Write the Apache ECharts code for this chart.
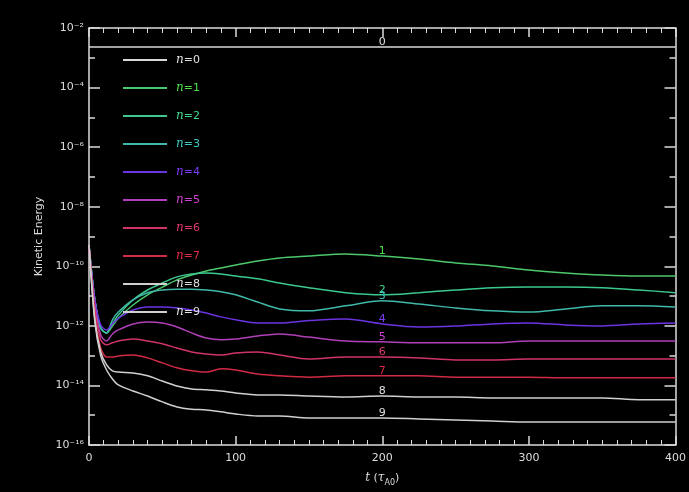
<!DOCTYPE html>
<html><head><meta charset="utf-8">
<script src="https://cdn.jsdelivr.net/npm/echarts@6/dist/echarts.min.js"></script>
<style>html,body{margin:0;padding:0;background:#000;} #c{width:689px;height:492px;}</style>
</head><body><div id="c"></div>
<script>
// ---- data ----
const times = [0,4,8,12,16,20,30,40,50,60,70,80,90,100,115,130,150,175,200,225,250,275,300,325,350,375,400];
const n0Times = [0, 200, 400];
const n0 = [2.3e-3, 2.3e-3, 2.3e-3];
const n1 = [5.2e-10,7.4e-12,8.5e-13,5.8e-13,9.9e-13,1.8e-12,5.0e-12,1.1e-11,2.0e-11,3.5e-11,5.1e-11,7.0e-11,8.8e-11,1.1e-10,1.5e-10,1.9e-10,2.2e-10,2.6e-10,2.2e-10,1.76e-10,1.3e-10,1.03e-10,7.5e-11,6.0e-11,5.1e-11,4.7e-11,4.7e-11];
const n2 = [5.2e-10,7.4e-12,8.5e-13,5.8e-13,1.16e-12,2.3e-12,7.4e-12,1.6e-11,2.75e-11,4.4e-11,5.5e-11,6.0e-11,5.5e-11,4.7e-11,3.8e-11,2.75e-11,1.9e-11,1.3e-11,1.1e-11,1.3e-11,1.6e-11,1.9e-11,2.0e-11,2.0e-11,1.9e-11,1.6e-11,1.3e-11];
const n3 = [5.2e-10,7.4e-12,8.5e-13,5.8e-13,1.6e-12,2.9e-12,7.4e-12,1.3e-11,1.6e-11,1.7e-11,1.7e-11,1.6e-11,1.4e-11,1.1e-11,6.3e-12,3.7e-12,3.2e-12,4.7e-12,6.9e-12,5.4e-12,4.0e-12,3.2e-12,2.9e-12,3.7e-12,4.7e-12,4.7e-12,4.3e-12];
const n4 = [5.2e-10,7.4e-12,1.07e-12,7.3e-13,1.16e-12,1.8e-12,3.4e-12,4.3e-12,4.3e-12,4.0e-12,3.4e-12,2.7e-12,2.0e-12,1.6e-12,1.25e-12,1.25e-12,1.5e-12,1.7e-12,1.16e-12,9.2e-13,9.9e-13,1.16e-12,1.25e-12,1.07e-12,9.9e-13,1.16e-12,1.25e-12];
const n5 = [5.2e-10,5.0e-12,4.9e-13,3.1e-13,5.35e-13,7.3e-13,1.16e-12,1.35e-12,1.25e-12,9.2e-13,5.8e-13,3.9e-13,3.4e-13,3.6e-13,4.6e-13,5.35e-13,4.2e-13,3.1e-13,2.9e-13,2.7e-13,2.7e-13,2.7e-13,3.1e-13,3.1e-13,3.1e-13,3.1e-13,3.1e-13];
const n6 = [5.2e-10,3.4e-12,3.4e-13,2.3e-13,2.7e-13,3.1e-13,3.6e-13,3.1e-13,2.5e-13,1.8e-13,1.33e-13,1.14e-13,1.05e-13,1.23e-13,1.33e-13,1.05e-13,7.7e-14,9.0e-14,9.0e-14,8.4e-14,7.2e-14,7.2e-14,7.7e-14,7.7e-14,7.7e-14,7.7e-14,7.7e-14];
const n7 = [5.2e-10,2.3e-12,1.8e-13,9.0e-14,9.0e-14,9.8e-14,1.05e-13,8.4e-14,5.7e-14,3.9e-14,3.1e-14,2.8e-14,3.6e-14,3.3e-14,2.4e-14,2.1e-14,1.9e-14,2.1e-14,2.1e-14,2.1e-14,1.9e-14,1.9e-14,1.9e-14,1.8e-14,1.8e-14,1.8e-14,1.8e-14];
const n8 = [5.2e-10,1.6e-12,1.33e-13,4.9e-14,3.1e-14,2.8e-14,2.6e-14,2.1e-14,1.4e-14,9.6e-15,7.6e-15,7.1e-15,6.5e-15,5.6e-15,4.8e-15,4.8e-15,4.4e-15,4.1e-15,4.4e-15,4.1e-15,4.1e-15,3.8e-15,3.8e-15,3.8e-15,3.8e-15,3.3e-15,3.3e-15];
const n9 = [5.2e-10,1.35e-12,9.8e-14,3.3e-14,1.65e-14,1.04e-14,6.5e-15,4.4e-15,2.8e-15,1.9e-15,1.6e-15,1.5e-15,1.3e-15,1.1e-15,9.5e-16,9.5e-16,8.1e-16,8.1e-16,8.1e-16,7.5e-16,6.9e-16,6.4e-16,5.9e-16,5.9e-16,5.9e-16,5.9e-16,5.9e-16];
const seriesNames = ['n=0','n=1','n=2','n=3','n=4','n=5','n=6','n=7','n=8','n=9'];
const curveLabels = ['0','1','2','3','4','5','6','7','8','9'];
const labelTime = 200;
const xTicks = [0,100,200,300,400];
const yMajorTicks = [1e-2,1e-4,1e-6,1e-8,1e-10,1e-12,1e-14,1e-16];
const yMinorTicks = [1e-3,1e-5,1e-7,1e-9,1e-11,1e-13,1e-15];

// ---- styles ----
const lineColors = ['#d8d8d8','#4cc86c','#3cc88e','#40b8aa','#6a34e0','#b040b8','#d03466','#d02a44','#d0d0d0','#d0d0d0'];
const textColors = ['#e0e0e0','#4ce04c','#40d890','#40c8c0','#7a3cf0','#d040d0','#e03870','#e02a44','#e0e0e0','#e0e0e0'];
const fg = '#dcdcdc';

const sup = {'-':'\u207b','0':'\u2070','1':'\u00b9','2':'\u00b2','3':'\u00b3','4':'\u2074','5':'\u2075','6':'\u2076','7':'\u2077','8':'\u2078','9':'\u2079'};
function powLabel(v){
  const e = Math.round(Math.log10(v));
  return '10' + String(e).split('').map(c=>sup[c]).join('');
}

const allData = [n0,n1,n2,n3,n4,n5,n6,n7,n8,n9];
const series = allData.map((vals,i)=>{
  const xs = i===0 ? n0Times : times;
  const k = xs.indexOf(labelTime);
  return {
    name: seriesNames[i],
    type: 'line',
    xAxisIndex: 0, yAxisIndex: 0,
    data: xs.map((t,j)=>[t, vals[j]]),
    showSymbol: false,
    smooth: 0.3,
    lineStyle: {color: lineColors[i], width: 1.5},
    itemStyle: {color: lineColors[i]},
    markPoint: {
      symbol: 'circle', symbolSize: 1, silent: true,
      itemStyle: {color: 'rgba(0,0,0,0)'},
      label: {show: true, position: 'top', distance: -1, formatter: curveLabels[i], color: textColors[i], fontSize: 11, fontFamily: 'DejaVu Sans'},
      data: [{coord: [labelTime, vals[k]]}]
    }
  };
});

const axisLineStyle = {color: fg, width: 1.5};
const yBase = {type: 'log', logBase: 10, min: 1e-16, max: 1e-2, splitLine: {show: false}};
const option = {
  backgroundColor: '#000',
  animation: false,
  grid: {left: 89, right: 13, top: 28, bottom: 47, containLabel: false},
  legend: {
    orient: 'vertical', left: 118, top: 48,
    itemWidth: 44, itemHeight: 2, itemGap: 14, icon: 'rect',
    data: seriesNames.map((n,i)=>({name: n, textStyle: {color: textColors[i]}})),
    formatter: n => '{i|n}' + n.slice(1),
    textStyle: {fontSize: 11, lineHeight: 14, fontFamily: 'DejaVu Sans', padding: [0,0,0,4],
      rich: {i: {fontStyle: 'italic', fontFamily: 'DejaVu Serif', fontSize: 12}}},
    selectedMode: false
  },
  xAxis: [
    {type: 'value', position: 'bottom', min: 0, max: 400, interval: 100,
     axisLine: {show: true, lineStyle: axisLineStyle},
     axisTick: {show: true, inside: true, length: 9, lineStyle: axisLineStyle, customValues: xTicks},
     minorTick: {show: true, splitNumber: 10, length: 5, lineStyle: {color: fg, width: 1}},
     axisLabel: {color: fg, fontSize: 11, fontFamily: 'DejaVu Sans', margin: 8, customValues: xTicks},
     splitLine: {show: false},
     name: '{it|t} ({it|\u03c4}{sub|A0})', nameLocation: 'middle', nameGap: 24,
     nameTextStyle: {color: fg, fontSize: 11, fontFamily: 'DejaVu Sans',
       rich: {it: {fontStyle: 'italic', fontFamily: 'DejaVu Serif', fontSize: 12, lineHeight: 18},
              sub: {fontSize: 8, lineHeight: 12, verticalAlign: 'bottom'}}}},
    {type: 'value', position: 'top', min: 0, max: 400, interval: 100,
     axisLine: {show: true, lineStyle: axisLineStyle},
     axisTick: {show: true, inside: true, length: 9, lineStyle: axisLineStyle},
     minorTick: {show: true, splitNumber: 10, length: 5, lineStyle: {color: fg, width: 1}},
     axisLabel: {show: false}, splitLine: {show: false}}
  ],
  yAxis: [
    Object.assign({}, yBase, {position: 'left',
      axisLine: {show: true, lineStyle: axisLineStyle},
      axisTick: {show: true, inside: true, length: 11, lineStyle: axisLineStyle, customValues: yMajorTicks},
      axisLabel: {color: fg, fontSize: 11, fontFamily: 'DejaVu Sans', margin: 5, customValues: yMajorTicks, formatter: powLabel},
      name: 'Kinetic Energy', nameLocation: 'middle', nameGap: 44,
      nameTextStyle: {color: fg, fontSize: 11, fontFamily: 'DejaVu Sans'}}),
    Object.assign({}, yBase, {position: 'left',
      axisLine: {show: false},
      axisTick: {show: true, inside: true, length: 6, lineStyle: axisLineStyle, customValues: yMinorTicks},
      axisLabel: {show: false}}),
    Object.assign({}, yBase, {position: 'right',
      axisLine: {show: true, lineStyle: axisLineStyle},
      axisTick: {show: true, inside: true, length: 11, lineStyle: axisLineStyle, customValues: yMajorTicks},
      axisLabel: {show: false}}),
    Object.assign({}, yBase, {position: 'right',
      axisLine: {show: false},
      axisTick: {show: true, inside: true, length: 6, lineStyle: axisLineStyle, customValues: yMinorTicks},
      axisLabel: {show: false}})
  ],
  series: series
};
const chart = echarts.init(document.getElementById('c'), null, {renderer: 'canvas'});
chart.setOption(option);
</script>
</body></html>
